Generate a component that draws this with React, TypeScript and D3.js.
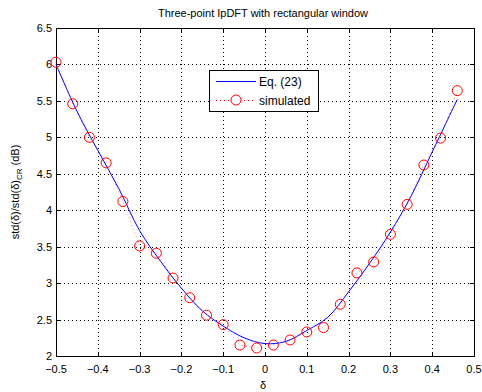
import React, { useEffect, useRef } from "react";
import * as d3 from "d3";

const titleText = "Three-point IpDFT with rectangular window";
const xTicks = [-0.5, -0.4, -0.3, -0.2, -0.1, 0, 0.1, 0.2, 0.3, 0.4, 0.5];
const yTicks = [2, 2.5, 3, 3.5, 4, 4.5, 5, 5.5, 6, 6.5];

// Eq. (23) curve samples
const curveX = [-0.5, -0.45, -0.4, -0.35, -0.3, -0.25, -0.2, -0.15, -0.1, -0.05, 0, 0.05, 0.1, 0.15, 0.2, 0.25, 0.3, 0.35, 0.4, 0.46];
const curveY = [6.0, 5.36, 4.82, 4.3, 3.72, 3.3, 2.93, 2.62, 2.41, 2.25, 2.17, 2.2, 2.35, 2.53, 2.88, 3.27, 3.7, 4.2, 4.8, 5.52];

// simulated points
const simX = [-0.5, -0.46, -0.42, -0.38, -0.34, -0.3, -0.26, -0.22, -0.18, -0.14, -0.1, -0.06, -0.02, 0.02, 0.06, 0.1, 0.14, 0.18, 0.22, 0.26, 0.3, 0.34, 0.38, 0.42, 0.46];
const simY = [6.03, 5.46, 5.0, 4.65, 4.12, 3.51, 3.41, 3.07, 2.8, 2.56, 2.43, 2.15, 2.11, 2.15, 2.22, 2.33, 2.39, 2.71, 3.14, 3.29, 3.67, 4.08, 4.62, 4.99, 5.64];

const W = 482;
const H = 392;
const FONT = "'Liberation Sans', Arial, Helvetica, sans-serif";

export default function App() {
  const ref = useRef<SVGSVGElement | null>(null);

  useEffect(() => {
    const svg = d3.select(ref.current);
    svg.selectAll("*").remove();

    const x = d3.scaleLinear().domain([-0.5, 0.5]).range([56, 474]);
    const y = d3.scaleLinear().domain([2, 6.5]).range([356, 28]);
    const [x0, x1] = x.range();
    const [y0, y1] = y.range();

    svg.append("rect").attr("width", W).attr("height", H).attr("fill", "#fff");
    svg.append("rect").attr("x", x0).attr("y", y1).attr("width", x1 - x0).attr("height", y0 - y1).attr("fill", "#fff");

    // grid
    const grid = svg.append("g").attr("stroke", "#000").attr("stroke-width", 1).attr("stroke-dasharray", "1,3").attr("shape-rendering", "crispEdges");
    xTicks.slice(1, -1).forEach((t) => {
      grid.append("line").attr("x1", Math.round(x(t)) + 0.5).attr("x2", Math.round(x(t)) + 0.5).attr("y1", y1).attr("y2", y0);
    });
    yTicks.slice(1, -1).forEach((t) => {
      grid.append("line").attr("y1", Math.round(y(t)) + 0.5).attr("y2", Math.round(y(t)) + 0.5).attr("x1", x0).attr("x2", x1);
    });

    // ticks (inward, all four sides)
    const tk = svg.append("g").attr("stroke", "#000").attr("stroke-width", 1).attr("shape-rendering", "crispEdges");
    const tl = 4;
    xTicks.forEach((t) => {
      const px = Math.round(x(t)) + 0.5;
      tk.append("line").attr("x1", px).attr("x2", px).attr("y1", y0).attr("y2", y0 - tl);
      tk.append("line").attr("x1", px).attr("x2", px).attr("y1", y1).attr("y2", y1 + tl);
    });
    yTicks.forEach((t) => {
      const py = Math.round(y(t)) + 0.5;
      tk.append("line").attr("y1", py).attr("y2", py).attr("x1", x0).attr("x2", x0 + tl);
      tk.append("line").attr("y1", py).attr("y2", py).attr("x1", x1).attr("x2", x1 - tl);
    });

    // box
    svg.append("rect").attr("x", x0 + 0.5).attr("y", y1 + 0.5).attr("width", x1 - x0).attr("height", y0 - y1)
      .attr("fill", "none").attr("stroke", "#000").attr("stroke-width", 1).attr("shape-rendering", "crispEdges");

    // tick labels
    const lab = svg.append("g").attr("font-family", FONT).attr("font-size", 11).attr("fill", "#000");
    xTicks.forEach((t) => {
      lab.append("text").attr("x", x(t)).attr("y", 373).attr("text-anchor", "middle").text(d3.format("")(t));
    });
    yTicks.forEach((t) => {
      lab.append("text").attr("x", 52).attr("y", y(t) + 4).attr("text-anchor", "end").text(d3.format("")(t));
    });

    // title
    svg.append("text").attr("x", 263).attr("y", 17).attr("text-anchor", "middle")
      .attr("font-family", FONT).attr("font-size", 11).text(titleText);

    // x label
    svg.append("text").attr("x", 263).attr("y", 389).attr("text-anchor", "middle")
      .attr("font-family", FONT).attr("font-size", 11).text("δ");

    // y label
    const yl = svg.append("text").attr("transform", `translate(19,${(y0 + y1) / 2}) rotate(-90)`)
      .attr("text-anchor", "middle").attr("font-family", FONT).attr("font-size", 11);
    yl.append("tspan").text("std(δ)/std(δ)");
    yl.append("tspan").attr("font-size", 8).attr("dy", 3).text("CR");
    yl.append("tspan").attr("dy", -3).text("  (dB)");

    // curve
    const curveData = curveX.map((v, i) => [v, curveY[i]] as [number, number]);
    const line = d3.line<[number, number]>().x((d) => x(d[0])).y((d) => y(d[1])).curve(d3.curveCatmullRom);
    svg.append("path").datum(curveData).attr("d", line).attr("fill", "none").attr("stroke", "#0000ff").attr("stroke-width", 1);

    // simulated
    const simData = simX.map((v, i) => [v, simY[i]] as [number, number]);
    const sline = d3.line<[number, number]>().x((d) => x(d[0])).y((d) => y(d[1]));
    svg.append("path").datum(simData).attr("d", sline).attr("fill", "none").attr("stroke", "#ff0000")
      .attr("stroke-width", 1).attr("stroke-dasharray", "1,3").attr("opacity", 0.5);
    svg.append("g").selectAll("circle").data(simData).join("circle")
      .attr("cx", (d) => x(d[0])).attr("cy", (d) => y(d[1])).attr("r", 5)
      .attr("fill", "none").attr("stroke", "#ff0000").attr("stroke-width", 1);

    // legend
    const lg = svg.append("g");
    lg.append("rect").attr("x", 209.5).attr("y", 70.5).attr("width", 109).attr("height", 41)
      .attr("fill", "#fff").attr("stroke", "#000").attr("stroke-width", 1).attr("shape-rendering", "crispEdges");
    lg.append("line").attr("x1", 216).attr("x2", 256).attr("y1", 81.5).attr("y2", 81.5).attr("stroke", "#0000ff").attr("stroke-width", 1);
    lg.append("line").attr("x1", 216).attr("x2", 256).attr("y1", 100.5).attr("y2", 100.5).attr("stroke", "#ff0000")
      .attr("stroke-width", 1).attr("stroke-dasharray", "1,3");
    lg.append("circle").attr("cx", 236).attr("cy", 100).attr("r", 5).attr("fill", "#fff").attr("stroke", "#ff0000").attr("stroke-width", 1);
    lg.append("text").attr("x", 259).attr("y", 86).attr("font-family", FONT).attr("font-size", 12).text("Eq. (23)");
    lg.append("text").attr("x", 259).attr("y", 105).attr("font-family", FONT).attr("font-size", 12).text("simulated");
  }, []);

  return (
    <svg ref={ref} width={W} height={H} style={{ position: "absolute", left: 0, top: 0, display: "block" }} />
  );
}
